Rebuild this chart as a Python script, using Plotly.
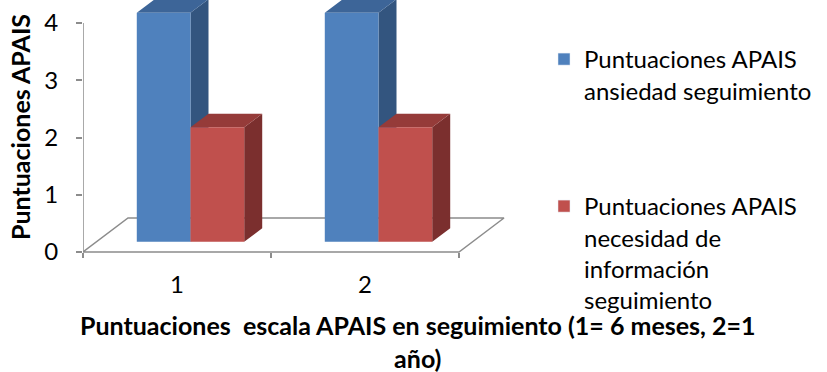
import plotly.graph_objects as go

# ---- data -------------------------------------------------------------
categories = [1, 2]
series_names = [
    "Puntuaciones APAIS<br>ansiedad seguimiento",
    "Puntuaciones APAIS<br>necesidad de<br>información<br>seguimiento",
]
ansiedad = [4, 4]
necesidad = [2, 2]
y_ticks = [0, 1, 2, 3, 4]

# ---- styling ----------------------------------------------------------
FONT = "Lato"
FS = 24
FS_TITLE = 25
front_cols = ["#4F81BD", "#C0504D"]
top_cols = ["#3D6598", "#953B39"]
side_cols = ["#33557F", "#7B2F2E"]
GRID = "#8C8C8C"

# pseudo-3D projection (floor depth in data units)
W_PX, H_PX = 827, 372
L_PX, R_PX, T_PX, B_PX = 83, 520, 0, 260
PX_PER_X = 188.0
PX_PER_Y = 57.25
Y0_PX = 252
DX = 45 / PX_PER_X          # floor depth, x direction
DY = 34 / PX_PER_Y          # floor depth, y direction
D_FRONT, D_BACK = 0.3, 0.7  # bars sit in the middle of the floor depth
GAP = 1.5
BW = 1.0 / (2 + GAP)

x_range = [0.5, 0.5 + (R_PX - L_PX) / PX_PER_X]
y_range = [-(B_PX - Y0_PX) / PX_PER_Y, (Y0_PX - T_PX) / PX_PER_Y]


def px_to_paper(px, py):
    return (px - L_PX) / (R_PX - L_PX), 1 - (py - T_PX) / (B_PX - T_PX)


fig = go.Figure()

# floor outline
x_lo, x_hi = categories[0] - 0.5, categories[-1] + 0.5
fig.add_trace(go.Scatter(
    x=[x_lo, x_hi, x_hi + DX, x_lo + DX, x_lo],
    y=[0, 0, DY, DY, 0],
    mode="lines", line=dict(color=GRID, width=1.5),
    showlegend=False, hoverinfo="skip"))
# value axis line
fig.add_trace(go.Scatter(
    x=[x_lo, x_lo], y=[0, max(y_ticks)],
    mode="lines", line=dict(color=GRID, width=1.5),
    showlegend=False, hoverinfo="skip"))


def faces(values, k):
    sx0, sy0 = D_FRONT * DX, D_FRONT * DY
    bdx, bdy = (D_BACK - D_FRONT) * DX, (D_BACK - D_FRONT) * DY
    front_x, front_y, top_x, top_y, side_x, side_y = [], [], [], [], [], []
    for c, v in zip(categories, values):
        x0 = c + sx0 - BW + k * BW
        x1 = x0 + BW
        yb, yt = sy0, sy0 + v
        front_x += [x0, x1, x1, x0, x0, None]
        front_y += [yb, yb, yt, yt, yb, None]
        top_x += [x0, x1, x1 + bdx, x0 + bdx, x0, None]
        top_y += [yt, yt, yt + bdy, yt + bdy, yt, None]
        side_x += [x1, x1 + bdx, x1 + bdx, x1, x1, None]
        side_y += [yb, yb + bdy, yt + bdy, yt, yb, None]
    return (side_x, side_y), (top_x, top_y), (front_x, front_y)


for k, vals in enumerate([ansiedad, necesidad]):
    side, top, front = faces(vals, k)
    for (xs, ys), col in zip([side, top, front],
                             [side_cols[k], top_cols[k], front_cols[k]]):
        fig.add_trace(go.Scatter(
            x=xs, y=ys, mode="none", fill="toself", fillcolor=col,
            showlegend=False, hoverinfo="skip"))

# legend entries
for k, (name, leg) in enumerate(zip(series_names, ["legend", "legend2"])):
    fig.add_trace(go.Bar(x=[None], y=[None], name=name,
                         marker_color=front_cols[k], legend=leg))

legend_common = dict(
    xref="container", yref="container", xanchor="left", yanchor="top",
    font=dict(family=FONT, size=FS, color="black"),
    bgcolor="rgba(0,0,0,0)", valign="top", itemclick=False)

ytx, yty = px_to_paper(20, 127)
xtx, xty = px_to_paper(418, 341)

fig.update_layout(
    width=W_PX, height=H_PX,
    margin=dict(l=L_PX, r=W_PX - R_PX, t=T_PX, b=H_PX - B_PX),
    paper_bgcolor="white", plot_bgcolor="white",
    font=dict(family=FONT, size=FS, color="black"),
    barmode="overlay",
    legend=dict(x=544 / W_PX, y=1 - 37 / H_PX, **legend_common),
    legend2=dict(x=544 / W_PX, y=1 - 184 / H_PX, **legend_common),
    xaxis=dict(
        range=x_range, showgrid=False, zeroline=False, showline=False,
        anchor="free", position=(B_PX - Y0_PX) / (B_PX - T_PX),
        tickmode="array", tickvals=categories,
        ticktext=[str(c) for c in categories], ticks="",
        ticklabelstandoff=16,
        tickfont=dict(family=FONT, size=FS, color="black"),
        minor=dict(ticks="outside", tick0=0.5, dtick=1, ticklen=5,
                   tickcolor=GRID, tickwidth=1.5, showgrid=False),
    ),
    yaxis=dict(
        range=y_range, showgrid=False, zeroline=False, showline=False,
        tickmode="array", tickvals=y_ticks, ticks="outside", ticklen=6,
        tickcolor=GRID, tickwidth=1.5, ticklabelstandoff=13,
        tickfont=dict(family=FONT, size=FS, color="black"),
    ),
    annotations=[
        dict(text="<b>Puntuaciones APAIS</b>", textangle=-90,
             xref="paper", yref="paper", x=ytx, y=yty,
             xanchor="center", yanchor="middle",
             showarrow=False,
             font=dict(family=FONT, size=FS_TITLE, color="black")),
        dict(text="<b>Puntuaciones\u00a0 escala APAIS en seguimiento (1= 6 meses, 2=1</b>"
                  "<br><b>año)</b>",
             xref="paper", yref="paper", x=xtx, y=xty,
             xanchor="center", yanchor="middle",
             showarrow=False,
             font=dict(family=FONT, size=FS_TITLE, color="black")),
    ],
)

fig.write_html("out.html")
